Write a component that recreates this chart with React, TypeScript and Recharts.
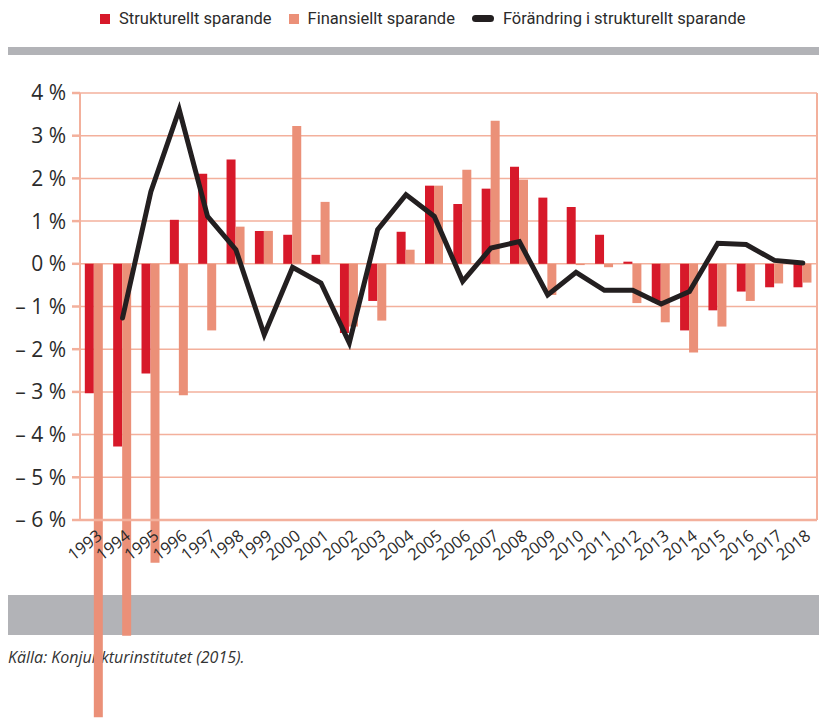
import React from 'react';
import { ComposedChart, Bar, Line, XAxis, YAxis, CartesianGrid } from 'recharts';

const years = [
  '1993', '1994', '1995', '1996', '1997', '1998', '1999', '2000', '2001', '2002', '2003', '2004', '2005',
  '2006', '2007', '2008', '2009', '2010', '2011', '2012', '2013', '2014', '2015', '2016', '2017', '2018',
];
const strukturellt = [
  -3.03, -4.28, -2.57, 1.03, 2.11, 2.44, 0.77, 0.68, 0.21, -1.62, -0.87, 0.75, 1.83,
  1.4, 1.76, 2.27, 1.55, 1.33, 0.68, 0.05, -0.9, -1.56, -1.09, -0.65, -0.55, -0.55,
];
const finansiellt = [
  -10.62, -8.71, -7.0, -3.08, -1.56, 0.87, 0.77, 3.23, 1.45, -1.47, -1.33, 0.33, 1.83,
  2.2, 3.35, 1.97, -0.73, -0.03, -0.08, -0.92, -1.37, -2.08, -1.47, -0.87, -0.46, -0.44,
];
const forandring = [
  null, -1.27, 1.69, 3.61, 1.11, 0.33, -1.66, -0.08, -0.45, -1.85, 0.8, 1.62, 1.11,
  -0.41, 0.37, 0.52, -0.73, -0.2, -0.62, -0.62, -0.94, -0.65, 0.48, 0.45, 0.08, 0.02,
];
const yTicks = [-6, -5, -4, -3, -2, -1, 0, 1, 2, 3, 4];

const RED = '#d7192a';
const SALMON = '#eb9078';
const GRID = '#f3b09c';
const LINE = '#231f20';
const TEXT = '#2b2b2b';

const data = years.map((year, i) => ({
  year,
  strukturellt: strukturellt[i],
  finansiellt: finansiellt[i],
  forandring: forandring[i],
}));

const formatY = (v: number) => (v < 0 ? `\u2013 ${Math.abs(v)} %` : `${v} %`);

const XTick = ({ x, y, payload }: any) => {
  const tx = x + 9;
  const ty = y + 10;
  return (
    <text
      x={tx}
      y={ty}
      textAnchor="end"
      fontSize={16.5}
      fill={TEXT}
      fontFamily="'Open Sans', sans-serif"
      transform={`rotate(-38, ${tx}, ${ty})`}
    >
      {payload.value}
    </text>
  );
};

const legendItems = [
  { label: 'Strukturellt sparande', color: RED, type: 'square' },
  { label: 'Finansiellt sparande', color: SALMON, type: 'square' },
  { label: 'Förändring i strukturellt sparande', color: LINE, type: 'line' },
];

const Legend = () => (
  <div
    style={{
      position: 'absolute',
      top: 9,
      left: 100,
      display: 'flex',
      alignItems: 'center',
      gap: 17,
      fontFamily: 'Roboto, sans-serif',
      fontSize: 16.5,
      color: TEXT,
      whiteSpace: 'nowrap',
    }}
  >
    {legendItems.map((item) => (
      <div key={item.label} style={{ display: 'flex', alignItems: 'center', gap: 9 }}>
        {item.type === 'square' ? (
          <span style={{ width: 10, height: 10, background: item.color, display: 'inline-block' }} />
        ) : (
          <span style={{ width: 22, height: 7, borderRadius: 4, background: item.color, display: 'inline-block' }} />
        )}
        <span>{item.label}</span>
      </div>
    ))}
  </div>
);

export default function App() {
  return (
    <div style={{ position: 'absolute', left: 0, top: 0, width: 819, height: 718, background: '#fff' }}>
      <style>{`.recharts-bar, .recharts-bar * { clip-path: none !important; }`}</style>
      <Legend />
      <div style={{ position: 'absolute', left: 8, top: 47, width: 811, height: 8, background: '#b2b3b7' }} />
      <div style={{ position: 'absolute', left: 8, top: 595, width: 811, height: 40, background: '#b2b3b7' }} />
      <div
        style={{
          position: 'absolute',
          left: 8,
          top: 646,
          fontFamily: "'Open Sans', sans-serif",
          fontStyle: 'italic',
          fontSize: 16,
          color: '#333',
        }}
      >
        Källa: Konjunkturinstitutet (2015).
      </div>
      <div style={{ position: 'absolute', left: 0, top: 0 }}>
        <ComposedChart
          width={819}
          height={718}
          data={data}
          margin={{ top: 93, right: 1, left: 0, bottom: 138 }}
          barCategoryGap="17%"
          barGap={0}
        >
          <CartesianGrid vertical={false} stroke={GRID} strokeWidth={1.5} />
          <XAxis
            dataKey="year"
            height={60}
            tickLine={false}
            axisLine={{ stroke: GRID, strokeWidth: 2.5 }}
            interval={0}
            tick={<XTick />}
          />
          <YAxis
            domain={[-6, 4]}
            ticks={yTicks}
            allowDataOverflow
            width={80}
            tickSize={8}
            tickMargin={6}
            stroke={TEXT}
            tickLine={{ stroke: GRID, strokeWidth: 2.5 }}
            axisLine={{ stroke: GRID, strokeWidth: 2 }}
            tickFormatter={formatY}
            tick={{ fontSize: 21, fill: TEXT, fontFamily: "'Open Sans', sans-serif" }}
          />
          <YAxis
            yAxisId="right"
            orientation="right"
            domain={[-6, 4]}
            width={1}
            tick={false}
            tickLine={false}
            axisLine={{ stroke: GRID, strokeWidth: 2 }}
          />
          <Bar dataKey="strukturellt" name="Strukturellt sparande" fill={RED} isAnimationActive={false} />
          <Bar dataKey="finansiellt" name="Finansiellt sparande" fill={SALMON} isAnimationActive={false} />
          <Line
            type="linear"
            dataKey="forandring"
            name="Förändring i strukturellt sparande"
            stroke={LINE}
            strokeWidth={5}
            strokeLinecap="round"
            strokeLinejoin="miter"
            dot={false}
            activeDot={false}
            isAnimationActive={false}
          />
        </ComposedChart>
      </div>
    </div>
  );
}
